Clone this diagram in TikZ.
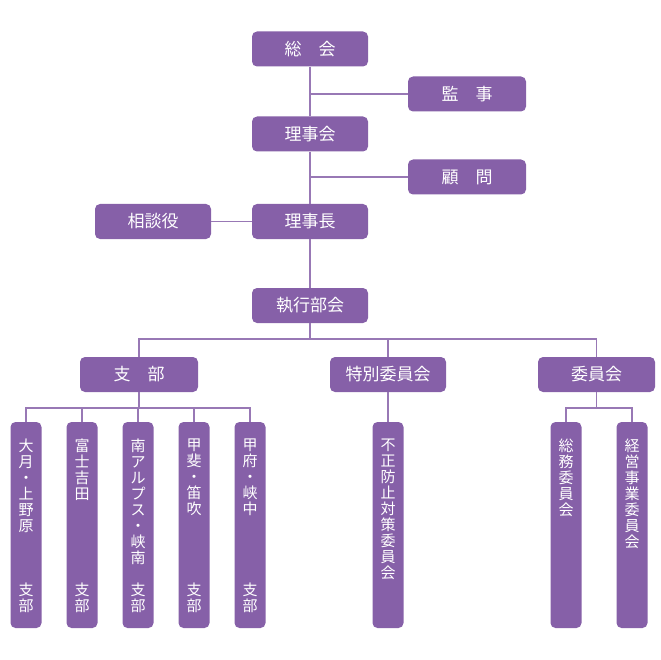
\documentclass[tikz,border=0pt]{standalone}
\usepackage{fontspec}
\newfontfamily\cjk{Noto Sans CJK JP}
\definecolor{vio}{HTML}{8660A8}
\begin{document}
\begin{tikzpicture}[x=1pt,y=-1pt,
 box/.style={fill=vio, rounded corners=5pt, text=white, font=\cjk\fontsize{17}{17}\selectfont, inner sep=0pt, minimum width=116pt, minimum height=35pt},
 vbox/.style={fill=vio, rounded corners=5pt, inner sep=0pt, minimum width=31pt, minimum height=206pt},
 vtxt/.style={text=white, font=\cjk\fontsize{15}{16}\selectfont, inner sep=0pt, align=center},
 ln/.style={draw=vio!85, line width=1.8pt}]
\useasboundingbox (0,0) rectangle (660,660);
% main column
\node[box] (sokai) at (310,49) {総　会};
\node[box,minimum width=118pt] (kanji) at (467,94) {監　事};
\node[box] (rijikai) at (310,134) {理事会};
\node[box,minimum width=118pt] (komon) at (467,177) {顧　問};
\node[box] (rijicho) at (310,221.5) {理事長};
\node[box] (sodan) at (153,221.5) {相談役};
\node[box] (shikko) at (310,305.5) {執行部会};
\node[box,minimum width=118pt] (shibu) at (139,374.5) {支　部};
\node[box] (tokubetsu) at (388,374.5) {特別委員会};
\node[box,minimum width=117pt] (iinkai) at (596.5,374.5) {委員会};
% vertical boxes
\node[vbox] (v1) at (26,525) {};
\node[vbox] (v2) at (82,525) {};
\node[vbox] (v3) at (138,525) {};
\node[vbox] (v4) at (194,525) {};
\node[vbox] (v5) at (250,525) {};
\node[vbox] (v6) at (388,525) {};
\node[vbox] (v7) at (566,525) {};
\node[vbox] (v8) at (632,525) {};
% vertical texts
\node[vtxt,anchor=north] (t1) at (26,439) {大\\月\\・\\上\\野\\原};
\node[vtxt,anchor=north] (t2) at (82,439) {富\\士\\吉\\田};
\node[vtxt,anchor=north] (t3) at (138,439) {南\\ア\\ル\\プ\\ス\\・\\峡\\南};
\node[vtxt,anchor=north] (t4) at (194,439) {甲\\斐\\・\\笛\\吹};
\node[vtxt,anchor=north] (t5) at (250,439) {甲\\府\\・\\峡\\中};
\node[vtxt,anchor=north] (t6) at (388,439) {不\\正\\防\\止\\対\\策\\委\\員\\会};
\node[vtxt,anchor=north] (t7) at (566,439) {総\\務\\委\\員\\会};
\node[vtxt,anchor=north] (t8) at (632,439) {経\\営\\事\\業\\委\\員\\会};
\node[vtxt,anchor=south] (s1) at (26,613) {支\\部};
\node[vtxt,anchor=south] (s2) at (82,613) {支\\部};
\node[vtxt,anchor=south] (s3) at (138,613) {支\\部};
\node[vtxt,anchor=south] (s4) at (194,613) {支\\部};
\node[vtxt,anchor=south] (s5) at (250,613) {支\\部};
% connectors
\draw[ln] (sokai.south) -- (rijikai.north);
\draw[ln] (rijikai.south) -- (rijicho.north);
\draw[ln] (rijicho.south) -- (shikko.north);
\draw[ln] (kanji.west) -- (kanji.west -| sokai.south);
\draw[ln] (komon.west) -- (komon.west -| rijikai.south);
\draw[ln] (sodan.east) -- (rijicho.west);
\coordinate (b1) at (310,339);
\draw[ln] (shikko.south) -- (b1);
\draw[ln] (shibu.north) |- (b1);
\draw[ln] (iinkai.north) |- (b1);
\draw[ln] (tokubetsu.north) -- (tokubetsu.north |- b1);
\coordinate (b2) at (0,408);
\draw[ln] (shibu.south) -- (shibu.south |- b2);
\draw[ln] (v1.north) |- (shibu.south |- b2);
\draw[ln] (v5.north) |- (shibu.south |- b2);
\draw[ln] (v2.north) -- (v2.north |- b2);
\draw[ln] (v3.north) -- (v3.north |- b2);
\draw[ln] (v4.north) -- (v4.north |- b2);
\draw[ln] (tokubetsu.south) -- (v6.north);
\draw[ln] (iinkai.south) -- (iinkai.south |- b2);
\draw[ln] (v7.north) |- (iinkai.south |- b2);
\draw[ln] (v8.north) |- (iinkai.south |- b2);
\end{tikzpicture}
\end{document}
